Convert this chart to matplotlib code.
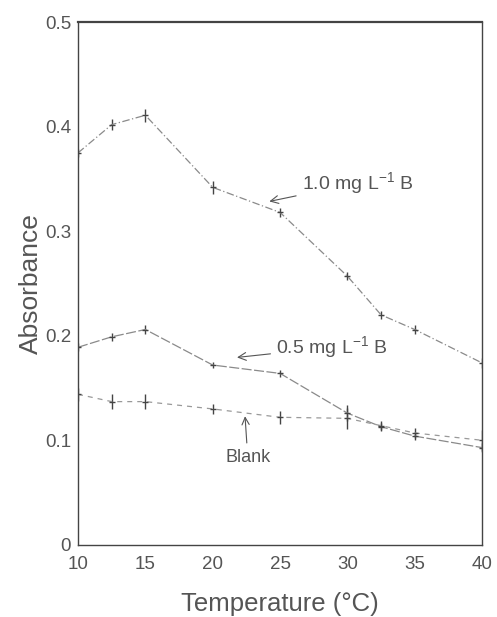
import matplotlib
matplotlib.use("Agg")
import matplotlib.pyplot as plt

temps = [10, 12.5, 15, 20, 25, 30, 32.5, 35, 40]
b10 = [0.375, 0.402, 0.411, 0.342, 0.318, 0.257, 0.220, 0.206, 0.174]
b10_err = [0.004, 0.005, 0.006, 0.006, 0.004, 0.004, 0.004, 0.004, 0.005]
b05 = [0.189, 0.199, 0.206, 0.172, 0.164, 0.126, 0.113, 0.104, 0.093]
b05_err = [0.004, 0.004, 0.004, 0.003, 0.003, 0.008, 0.004, 0.004, 0.004]
blank = [0.144, 0.137, 0.137, 0.130, 0.122, 0.121, 0.114, 0.107, 0.100]
blank_err = [0.006, 0.007, 0.007, 0.005, 0.006, 0.010, 0.004, 0.005, 0.010]

xticks = [10, 15, 20, 25, 30, 35, 40]
yticks = [0, 0.1, 0.2, 0.3, 0.4, 0.5]
ytick_labels = ["0", "0.1", "0.2", "0.3", "0.4", "0.5"]

plt.rcParams['font.family'] = ['Liberation Sans', 'DejaVu Sans']
plt.rcParams['mathtext.fontset'] = 'custom'
plt.rcParams['mathtext.rm'] = 'Liberation Sans'
plt.rcParams['mathtext.it'] = 'Liberation Sans'

fig = plt.figure(figsize=(4.97, 6.17), dpi=100)
ax = fig.add_axes([0.157, 0.117, 0.813, 0.847])

txt = '#555555'
ax.errorbar(temps, b10, yerr=b10_err, color='#8a8a8a', lw=0.9, ls=(0, (6, 2, 1, 2)),
            marker='_', ms=5, mec='#444444', ecolor='#444444', elinewidth=1.0, capsize=0)
ax.errorbar(temps, b05, yerr=b05_err, color='#8a8a8a', lw=0.9, ls=(0, (8, 2)),
            marker='_', ms=5, mec='#444444', ecolor='#444444', elinewidth=1.0, capsize=0)
ax.errorbar(temps, blank, yerr=blank_err, color='#999999', lw=0.9, ls=(0, (4, 4)),
            marker='_', ms=5, mec='#444444', ecolor='#444444', elinewidth=1.0, capsize=0)

ax.set_xlim(10, 40)
ax.set_ylim(0, 0.5)
ax.set_xticks(xticks)
ax.set_xticklabels([str(t) for t in xticks])
ax.set_yticks(yticks)
ax.set_yticklabels(ytick_labels)
ax.tick_params(length=0, labelsize=13.5, colors=txt)
ax.tick_params(axis='x', pad=8)
ax.tick_params(axis='y', pad=5)
for s in ax.spines.values():
    s.set_color('#444444')
    s.set_linewidth(1.0)
ax.spines['top'].set_linewidth(1.6)

ax.set_xlabel('Temperature (°C)', fontsize=18.5, color=txt, labelpad=14)
ax.set_ylabel('Absorbance', fontsize=19, color=txt, labelpad=1)

arr = dict(arrowstyle='->', color='#555555', lw=0.8)
ax.annotate('1.0 mg L$^{-1}$ B', xy=(24.0, 0.328), xytext=(26.6, 0.346),
            fontsize=14, color=txt, va='center', ha='left', arrowprops=arr)
ax.annotate('0.5 mg L$^{-1}$ B', xy=(21.6, 0.179), xytext=(24.7, 0.189),
            fontsize=14, color=txt, va='center', ha='left', arrowprops=arr)
ax.annotate('Blank', xy=(22.4, 0.123), xytext=(22.6, 0.084),
            fontsize=13, color=txt, va='center', ha='center',
            arrowprops=dict(arrowstyle='->', color='#555555', lw=0.8,
                            shrinkA=2, shrinkB=0))

fig.savefig('out.png', dpi=100)
